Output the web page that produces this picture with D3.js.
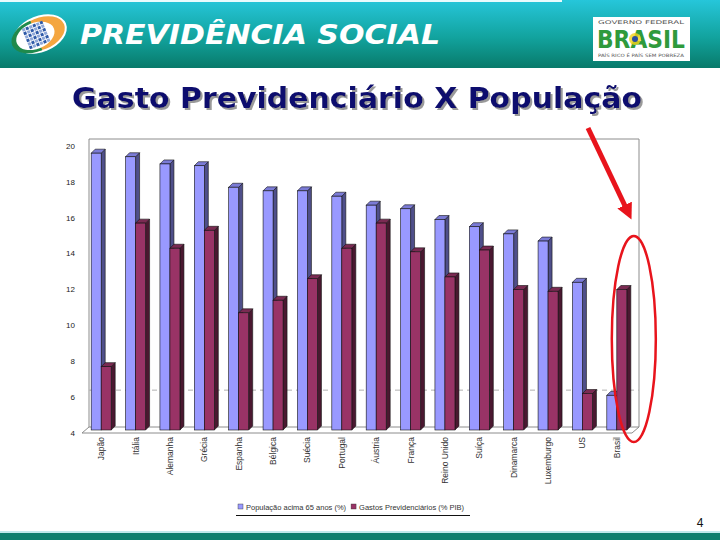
<!DOCTYPE html>
<html>
<head>
<meta charset="utf-8">
<script src="https://cdn.jsdelivr.net/npm/d3@7"></script>
<style>
  body { margin: 0; background: #fff; }
  svg { display: block; }
</style>
</head>
<body>
<div id="chart"></div>
<script>
// chart data
var categories = ['Japão', 'Itália', 'Alemanha', 'Grécia', 'Espanha', 'Bélgica', 'Suécia', 'Portugal',
    'Áustria', 'França', 'Reino Unido', 'Suíça', 'Dinamarca', 'Luxemburgo', 'US', 'Brasil'];
var populacao = [19.6, 19.4, 19.0, 18.9, 17.7, 17.5, 17.5, 17.2, 16.7, 16.5, 15.9, 15.5, 15.1, 14.7, 12.4, 6.1];
var gastos = [7.7, 15.7, 14.3, 15.3, 10.7, 11.4, 12.6, 14.3, 15.7, 14.1, 12.7, 14.2, 12.0, 11.9, 6.2, 12.0];
var yTicks = [4, 6, 8, 10, 12, 14, 16, 18, 20];
var seriesNames = ['População acima 65 anos (%)', 'Gastos Previdenciários (% PIB)'];

var W = 720, H = 540;
var svg = d3.select('#chart').append('svg').attr('width', W).attr('height', H);
var defs = svg.append('defs');

// header band
var grad = defs.append('linearGradient').attr('id', 'hdr').attr('x1', 0).attr('y1', 0).attr('x2', 0).attr('y2', 1);
grad.append('stop').attr('offset', '0%').attr('stop-color', '#26c6da');
grad.append('stop').attr('offset', '55%').attr('stop-color', '#12a39e');
grad.append('stop').attr('offset', '100%').attr('stop-color', '#087a6a');
svg.append('rect').attr('x', 0).attr('y', 0).attr('width', W).attr('height', 68).attr('fill', 'url(#hdr)');
svg.append('rect').attr('x', 0).attr('y', 0).attr('width', 562).attr('height', 2).attr('fill', '#e8fbfd');

// left logo
var logo = svg.append('g').attr('transform', 'translate(40,34) rotate(-22)');
logo.append('ellipse').attr('rx', 28).attr('ry', 18).attr('fill', '#fff');
logo.append('ellipse').attr('rx', 26).attr('ry', 16).attr('fill', '#f4a640');
logo.append('path').attr('d', 'M-4,-16 A26,16 0 0 0 -4,16 Z').attr('fill', '#1f8a4c');
logo.append('ellipse').attr('cx', -5).attr('rx', 20).attr('ry', 13).attr('fill', '#fff');
var cells = [];
for (var i = 0; i < 6; i++) for (var j = 0; j < 6; j++) cells.push([i, j]);
logo.selectAll('rect.cell').data(cells).enter().append('rect')
    .attr('x', function (d) { return -15 + d[0] * 3.8; })
    .attr('y', function (d) { return -11.5 + d[1] * 3.8; })
    .attr('width', 3).attr('height', 3)
    .attr('fill', function (d) { return (d[0] + d[1]) % 2 ? '#2e5aa8' : '#8fa8d8'; });

svg.append('text').attr('x', 80).attr('y', 44)
    .attr('font-family', 'DejaVu Sans').attr('font-weight', 'bold').attr('font-style', 'italic')
    .attr('font-size', 27).attr('fill', '#fff')
    .attr('textLength', 360).attr('lengthAdjust', 'spacingAndGlyphs')
    .text('PREVIDÊNCIA SOCIAL');

// right logo
var br = svg.append('g');
br.append('rect').attr('x', 593).attr('y', 17).attr('width', 97).attr('height', 44).attr('fill', '#fff');
br.append('text').attr('x', 641).attr('y', 24).attr('text-anchor', 'middle')
    .attr('font-family', 'DejaVu Sans').attr('font-size', 5).attr('fill', '#555')
    .attr('textLength', 86).attr('lengthAdjust', 'spacingAndGlyphs').text('GOVERNO FEDERAL');
br.append('text').attr('x', 641).attr('y', 48).attr('text-anchor', 'middle')
    .attr('font-family', 'DejaVu Sans').attr('font-weight', 'bold').attr('font-size', 24).attr('fill', '#2f9a3c')
    .attr('textLength', 88).attr('lengthAdjust', 'spacingAndGlyphs').text('BRASIL');
br.append('circle').attr('cx', 635).attr('cy', 39).attr('r', 6).attr('fill', '#f2d21b').attr('opacity', 0.8);
br.append('circle').attr('cx', 635).attr('cy', 39).attr('r', 3).attr('fill', '#2a4ea0');
br.append('text').attr('x', 641).attr('y', 57).attr('text-anchor', 'middle')
    .attr('font-family', 'DejaVu Sans').attr('font-size', 4.5).attr('fill', '#555')
    .attr('textLength', 86).attr('lengthAdjust', 'spacingAndGlyphs').text('PAÍS RICO É PAÍS SEM POBREZA');

// bottom band
svg.append('rect').attr('x', 0).attr('y', 533).attr('width', W).attr('height', 7).attr('fill', '#0e7f6e');
svg.append('rect').attr('x', 0).attr('y', 531).attr('width', W).attr('height', 2).attr('fill', '#bfe9ec');

// title with drop shadow
var shadow = defs.append('filter').attr('id', 'shadow').attr('x', '-5%').attr('y', '-20%').attr('width', '110%').attr('height', '150%');
shadow.append('feDropShadow').attr('dx', 2).attr('dy', 2).attr('stdDeviation', 0.3)
    .attr('flood-color', '#9a9a9a').attr('flood-opacity', 1);
svg.append('text').attr('x', 72).attr('y', 108)
    .attr('font-family', 'DejaVu Sans').attr('font-weight', 'bold').attr('font-size', 28)
    .attr('fill', '#10106e').attr('filter', 'url(#shadow)')
    .attr('textLength', 570).attr('lengthAdjust', 'spacingAndGlyphs')
    .text('Gasto Previdenciário X População');

// scales
var y = d3.scaleLinear().domain([4, 20]).range([433, 146]);
var x0 = d3.scaleBand().domain(categories).range([84, 634]).padding(0);
var x1 = d3.scaleBand().domain([0, 1]).range([x0.step() / 2 - 10, x0.step() / 2 + 10]);

var depth = {dx: 4, dy: -4};
var backLeft = 89, backRight = 639, backTop = 139, backBottom = 427;

// walls
var frame = svg.append('g').attr('fill', 'none').attr('stroke', '#8c8c8c').attr('stroke-width', 1);
frame.append('path').attr('d', 'M' + backLeft + ',' + backBottom + 'V' + backTop + 'H' + backRight + 'V' + backBottom);
frame.append('path').attr('d', 'M' + backLeft + ',' + backBottom + 'H' + backRight + 'L' + (backRight - 7) + ',' + 433 +
    'H' + 82 + 'L' + backLeft + ',' + backBottom);
svg.append('line').attr('x1', backLeft).attr('x2', backRight)
    .attr('y1', y(6) - 7).attr('y2', y(6) - 7)
    .attr('stroke', '#b0b0b0').attr('stroke-dasharray', '5,4');

// y axis labels
svg.append('g').selectAll('text').data(yTicks).enter().append('text')
    .attr('x', 75).attr('y', function (d) { return y(d); }).attr('dy', '0.35em')
    .attr('text-anchor', 'end').attr('font-family', 'Liberation Sans').attr('font-size', 8).attr('fill', '#222')
    .text(function (d) { return d; });

// bars
var palette = [
    {front: '#9999ff', top: '#7b7bd6', side: '#4f4f8a'},
    {front: '#993366', top: '#7a2a52', side: '#4a1830'}
];
var baseY = y(4) - 3;
var groups = svg.append('g').selectAll('g').data(categories).enter().append('g')
    .attr('transform', function (d) { return 'translate(' + x0(d) + ',0)'; });

groups.each(function (c, i) {
    var g = d3.select(this);
    [populacao[i], gastos[i]].forEach(function (v, s) {
        var bx = x1(s), bw = x1.bandwidth(), ty = y(v);
        var col = palette[s];
        g.append('path')
            .attr('d', 'M' + (bx + bw) + ',' + ty + 'l' + depth.dx + ',' + depth.dy + 'V' + (baseY + depth.dy) +
                'l' + (-depth.dx) + ',' + (-depth.dy) + 'Z')
            .attr('fill', col.side).attr('stroke', '#111').attr('stroke-width', 0.6);
        g.append('path')
            .attr('d', 'M' + bx + ',' + ty + 'l' + depth.dx + ',' + depth.dy + 'h' + bw + 'l' + (-depth.dx) + ',' + (-depth.dy) + 'Z')
            .attr('fill', col.top).attr('stroke', '#111').attr('stroke-width', 0.6);
        g.append('rect').attr('x', bx).attr('y', ty).attr('width', bw).attr('height', baseY - ty)
            .attr('fill', col.front).attr('stroke', '#111').attr('stroke-width', 0.6);
    });
});

// x labels
svg.append('g').selectAll('text').data(categories).enter().append('text')
    .attr('transform', function (d) { return 'translate(' + (x0(d) + x0.step() / 2 + 3) + ',437) rotate(-90)'; })
    .attr('text-anchor', 'end').attr('font-family', 'Liberation Sans').attr('font-size', 8.5).attr('fill', '#333')
    .text(function (d) { return d; });

// legend
var legend = svg.append('g').attr('font-family', 'Liberation Sans').attr('font-size', 7.5).attr('fill', '#333');
var lx = 238;
seriesNames.forEach(function (name, s) {
    legend.append('rect').attr('x', lx).attr('y', 504).attr('width', 5).attr('height', 5)
        .attr('fill', palette[s].front).attr('stroke', '#333').attr('stroke-width', 0.4);
    var t = legend.append('text').attr('x', lx + 8).attr('y', 509.5).text(name);
    lx += 8 + t.node().getComputedTextLength() + 5;
});
svg.append('line').attr('x1', 236).attr('x2', 470).attr('y1', 515.5).attr('y2', 515.5)
    .attr('stroke', '#111').attr('stroke-width', 1);

// page number
svg.append('text').attr('x', 700).attr('y', 527).attr('text-anchor', 'middle')
    .attr('font-family', 'Liberation Sans').attr('font-size', 12).attr('fill', '#111').text('4');

// red annotation: arrow and ellipse around Brasil
defs.append('marker').attr('id', 'arrow').attr('viewBox', '0 0 10 10').attr('refX', 2).attr('refY', 5)
    .attr('markerWidth', 3.2).attr('markerHeight', 3.2).attr('orient', 'auto')
    .append('path').attr('d', 'M0,0L10,5L0,10Z').attr('fill', '#e8141c');
svg.append('line').attr('x1', 588).attr('y1', 128).attr('x2', 626).attr('y2', 208)
    .attr('stroke', '#e8141c').attr('stroke-width', 5).attr('marker-end', 'url(#arrow)');
var brasilX = x0('Brasil') + x0.step() / 2;
svg.append('ellipse').attr('cx', brasilX + 17).attr('cy', 339).attr('rx', 22).attr('ry', 103)
    .attr('fill', 'none').attr('stroke', '#e8141c').attr('stroke-width', 2.5);
</script>
</body>
</html>
